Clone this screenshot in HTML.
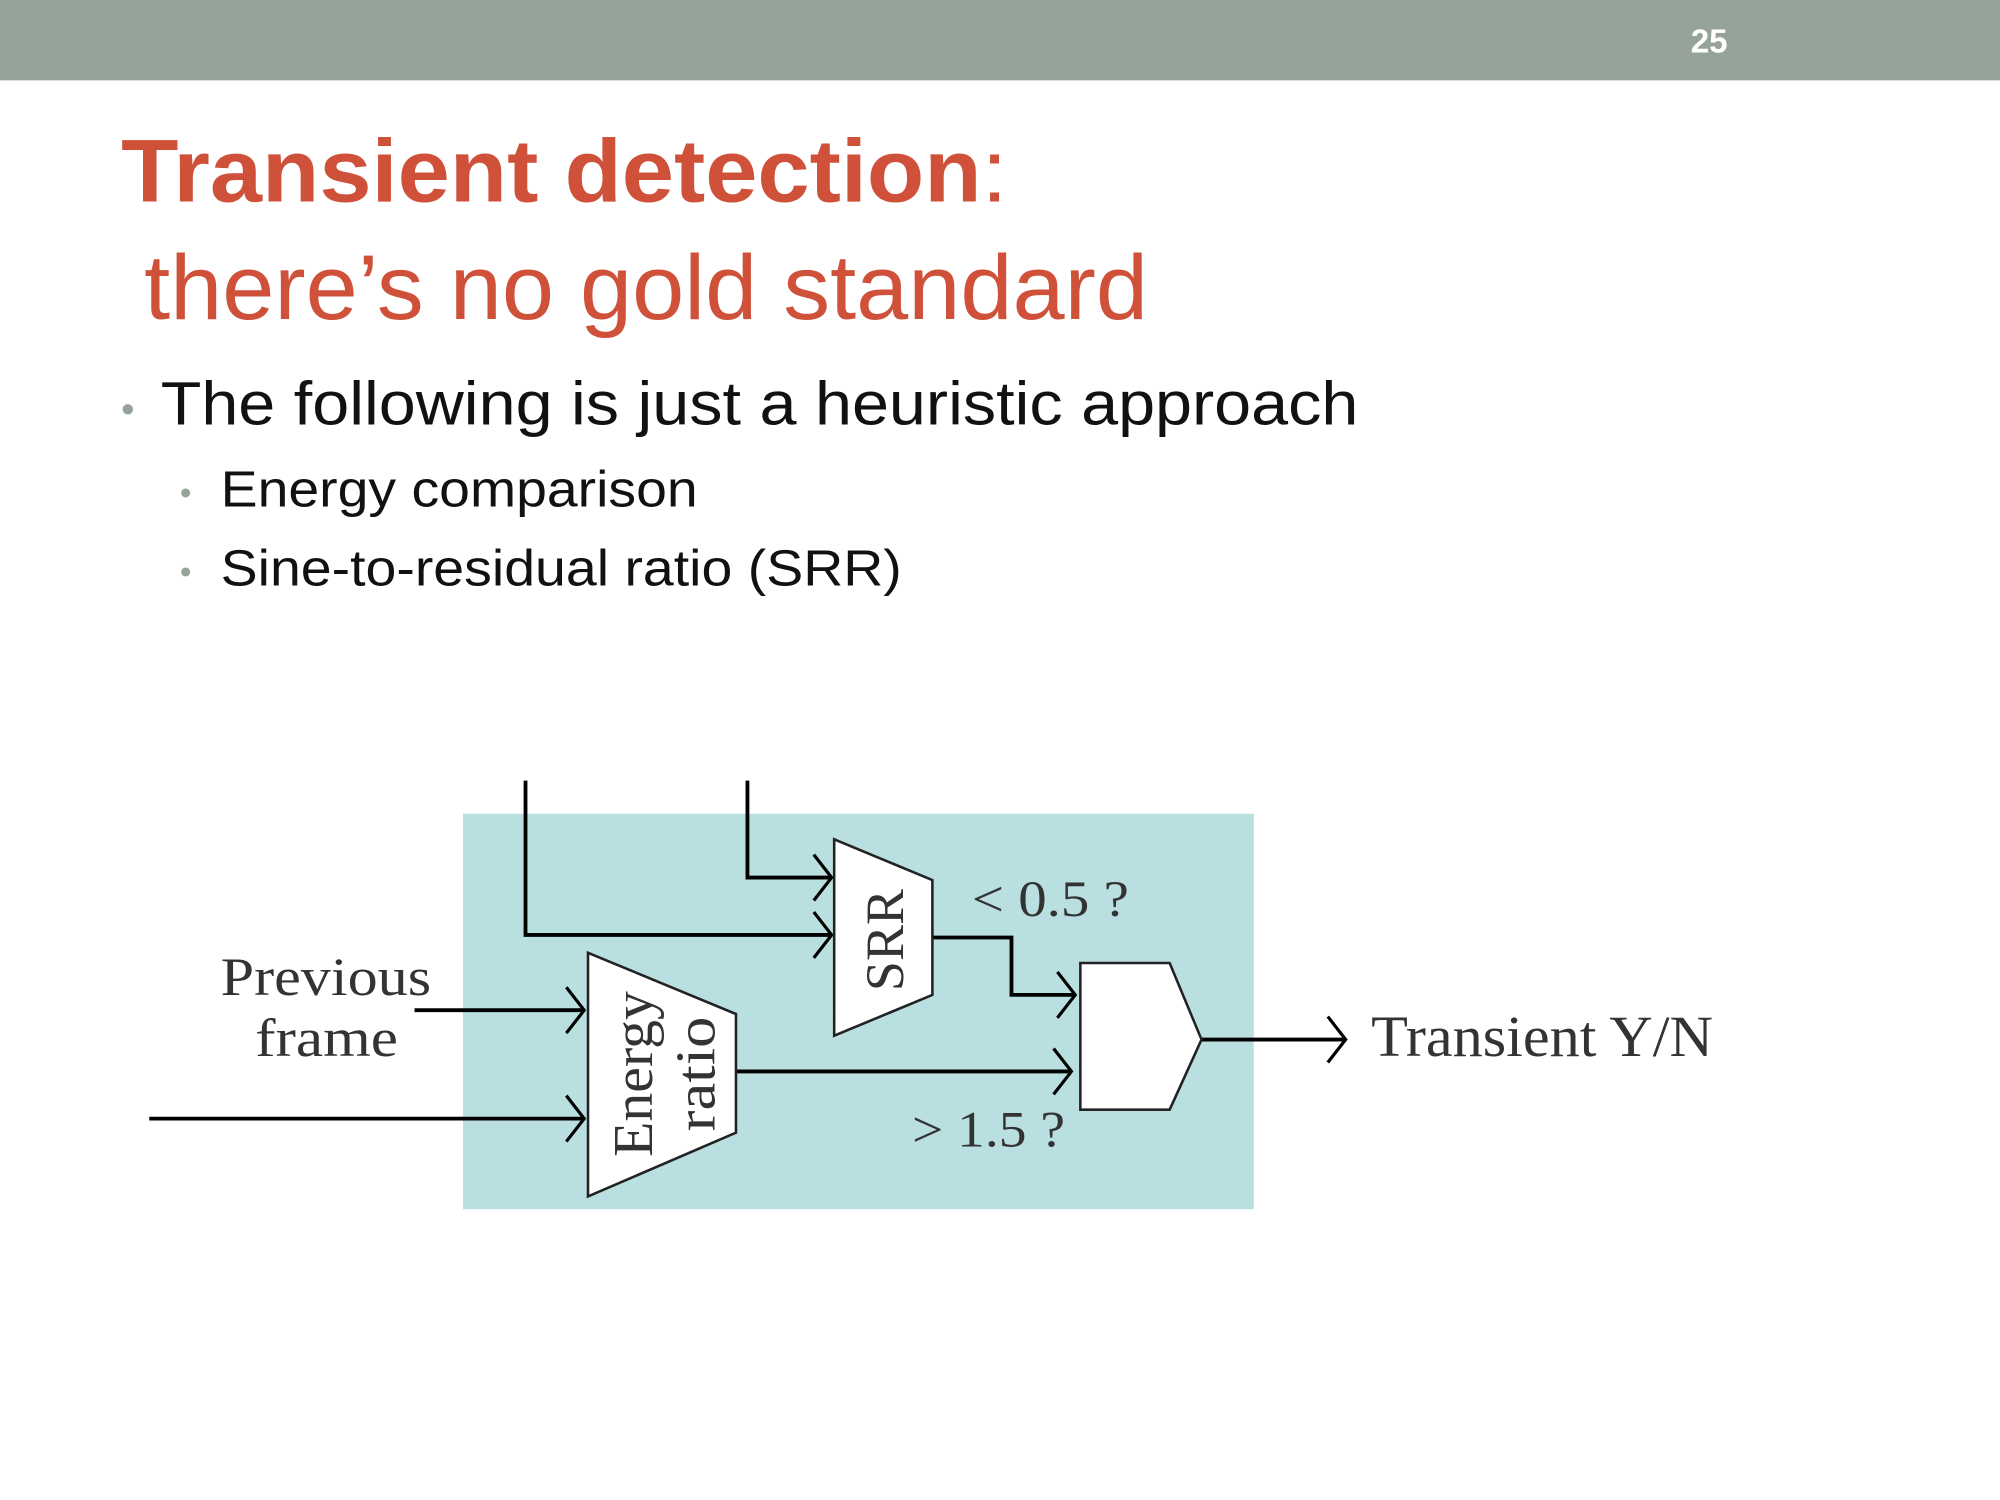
<!DOCTYPE html>
<html><head><meta charset="utf-8"><style>html,body{margin:0;padding:0;background:#fff}svg{display:block}</style></head>
<body>
<svg width="2000" height="1500" viewBox="0 0 1568 1176" xmlns="http://www.w3.org/2000/svg">
<rect x="0" y="0" width="1568" height="1176" fill="#fff"/>
<rect x="0" y="0" width="1568" height="63" fill="#95A399"/>
<text x="1340" y="41" font-family="Liberation Sans, sans-serif" font-size="26" font-weight="bold" fill="#fff" text-anchor="middle">25</text>
<text x="95" y="158" font-family="Liberation Sans, sans-serif" font-size="70" fill="#D0513A" textLength="695" lengthAdjust="spacingAndGlyphs"><tspan font-weight="bold">Transient detection</tspan>:</text>
<text x="113" y="250" font-family="Liberation Sans, sans-serif" font-size="72" fill="#D0513A" textLength="787" lengthAdjust="spacingAndGlyphs">there’s no gold standard</text>
<text x="95" y="331" font-family="Liberation Sans, sans-serif" font-size="30" fill="#95A399">•</text>
<text x="126" y="333" font-family="Liberation Sans, sans-serif" font-size="48" fill="#111" textLength="939" lengthAdjust="spacingAndGlyphs">The following is just a heuristic approach</text>
<text x="141" y="395" font-family="Liberation Sans, sans-serif" font-size="26" fill="#95A399">•</text>
<text x="173" y="397" font-family="Liberation Sans, sans-serif" font-size="40" fill="#111" textLength="374" lengthAdjust="spacingAndGlyphs">Energy comparison</text>
<text x="141" y="457" font-family="Liberation Sans, sans-serif" font-size="26" fill="#95A399">•</text>
<text x="173" y="459" font-family="Liberation Sans, sans-serif" font-size="40" fill="#111" textLength="534" lengthAdjust="spacingAndGlyphs">Sine-to-residual ratio (SRR)</text>

<rect x="363" y="638" width="620" height="310" fill="#B9DFE1"/>
<g fill="none" stroke="#000" stroke-width="3">
<polyline points="412,612 412,733 652,733"/>
<polyline points="586,612 586,688 652,688"/>
<polyline points="325,792 458,792"/>
<polyline points="117,877 458,877"/>
<polyline points="731,735 793,735 793,780 843,780"/>
<polyline points="577,840 840,840"/>
<polyline points="942,815 1055,815"/>
<g stroke-width="2.5">
<polyline points="638,670 652,688 638,706"/>
<polyline points="638,715 652,733 638,751"/>
<polyline points="444,774 458,792 444,810"/>
<polyline points="444,859 458,877 444,895"/>
<polyline points="829,762 843,780 829,798"/>
<polyline points="826,822 840,840 826,858"/>
<polyline points="1041,797 1055,815 1041,833"/>
</g>
</g>
<g fill="#fff" stroke="#222" stroke-width="2">
<polygon points="654,658 731,690 731,780 654,812"/>
<polygon points="461,747 577,795 577,888 461,938"/>
<polygon points="847,755 917,755 942,815 917,870 847,870"/>
</g>
<g font-family="Liberation Serif, serif" fill="#333">
<text transform="translate(708,737) rotate(-90)" font-size="42" text-anchor="middle" textLength="80" lengthAdjust="spacingAndGlyphs">SRR</text>
<text transform="translate(511,842) rotate(-90)" font-size="44" text-anchor="middle" textLength="130" lengthAdjust="spacingAndGlyphs">Energy</text>
<text transform="translate(560,842) rotate(-90)" font-size="44" text-anchor="middle" textLength="90" lengthAdjust="spacingAndGlyphs">ratio</text>
<text x="173" y="780" font-size="42" textLength="165" lengthAdjust="spacingAndGlyphs">Previous</text>
<text x="200" y="828" font-size="42" textLength="112" lengthAdjust="spacingAndGlyphs">frame</text>
<text x="762" y="718" font-size="40" textLength="123" lengthAdjust="spacingAndGlyphs">&lt; 0.5 ?</text>
<text x="715" y="899" font-size="40" textLength="120" lengthAdjust="spacingAndGlyphs">&gt; 1.5 ?</text>
<text x="1075" y="828" font-size="46" textLength="268" lengthAdjust="spacingAndGlyphs">Transient Y/N</text>
</g>
</svg>
</body></html>
